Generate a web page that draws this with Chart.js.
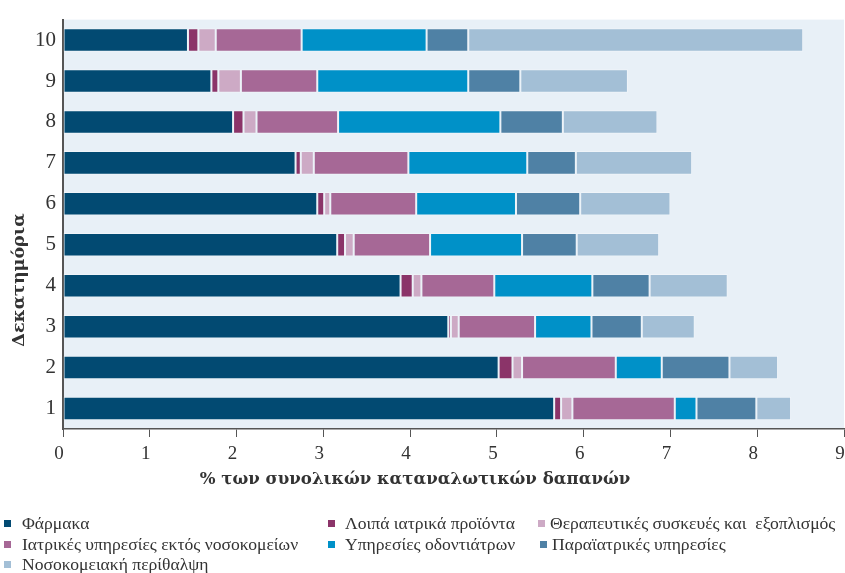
<!DOCTYPE html>
<html>
<head>
<meta charset="utf-8">
<script src="https://cdn.jsdelivr.net/npm/chart.js@4"></script>
<style>
  html, body { margin: 0; padding: 0; background: #fff; overflow: hidden; }
  #wrap { position: relative; width: 845px; height: 573px; }
  #legenda { position: absolute; left: 0; top: 0; width: 845px; height: 573px; pointer-events: none;
    font-family: "Liberation Serif", serif; font-size: 17.6px; color: #333; }
  .item { position: absolute; white-space: pre; line-height: 20px; }
  .box { position: absolute; width: 7px; height: 7px; }
</style>
</head>
<body>
<div id="wrap">
  <canvas id="grafima" width="845" height="500"></canvas>
  <div id="legenda"></div>
</div>
<script>
// δεκατημόρια, από πάνω προς τα κάτω
const dekatimoria = ['10', '9', '8', '7', '6', '5', '4', '3', '2', '1'];

const farmaka      = [1.44, 1.71, 1.96, 2.68, 2.93, 3.16, 3.89, 4.44, 5.02, 5.66];
const loipa        = [0.12, 0.08, 0.12, 0.06, 0.08, 0.09, 0.14, 0.03, 0.16, 0.08];
const syskeves     = [0.20, 0.26, 0.15, 0.15, 0.07, 0.10, 0.10, 0.09, 0.11, 0.13];
const iatrikes     = [0.99, 0.88, 0.94, 1.09, 0.99, 0.88, 0.84, 0.88, 1.08, 1.18];
const odontiatroi  = [1.44, 1.74, 1.87, 1.37, 1.15, 1.06, 1.13, 0.65, 0.53, 0.25];
const paraiatrikes = [0.48, 0.60, 0.72, 0.56, 0.74, 0.63, 0.66, 0.58, 0.78, 0.69];
const nosokomeia   = [3.86, 1.24, 1.09, 1.34, 1.04, 0.95, 0.90, 0.61, 0.56, 0.40];

const xMin = 0;
const xMax = 9;

const titlosX = '% των συνολικών καταναλωτικών δαπανών';
const titlosY = 'Δεκατημόρια';

const seires = [
  { label: 'Φάρμακα', data: farmaka, color: '#024a72' },
  { label: 'Λοιπά ιατρικά προϊόντα', data: loipa, color: '#8b3469' },
  { label: 'Θεραπευτικές συσκευές και  εξοπλισμός', data: syskeves, color: '#cdaac5' },
  { label: 'Ιατρικές υπηρεσίες εκτός νοσοκομείων', data: iatrikes, color: '#a66896' },
  { label: 'Υπηρεσίες οδοντιάτρων', data: odontiatroi, color: '#0091c8' },
  { label: 'Παραϊατρικές υπηρεσίες', data: paraiatrikes, color: '#4f81a5' },
  { label: 'Νοσοκομειακή περίθαλψη', data: nosokomeia, color: '#a3bfd6' }
];

// θέσεις υπομνήματος (x κουτιού, x κειμένου, y κέντρου)
const legendThesi = [
  [4, 22, 523], [328, 345, 523], [538, 550, 523],
  [4, 22, 544], [328, 345, 544], [540, 552, 544],
  [4, 22, 564]
];

const fonto = {
  id: 'fonto',
  beforeDraw(chart) {
    const { ctx, chartArea: a } = chart;
    ctx.save();
    ctx.fillStyle = '#e8f0f7';
    ctx.fillRect(a.left, a.top, a.right - a.left, a.bottom - a.top);
    ctx.restore();
  },
  afterDraw(chart) {
    const ctx = chart.ctx;
    ctx.save();
    ctx.font = 'bold 16.6px "DejaVu Serif", serif';
    ctx.fillStyle = '#333';
    ctx.textAlign = 'center';
    ctx.textBaseline = 'middle';
    ctx.fillText(titlosX, 415, 480);
    ctx.font = 'bold 17.5px "DejaVu Serif", serif';
    ctx.translate(19, 280);
    ctx.rotate(-Math.PI / 2);
    ctx.fillText(titlosY, 0, 0);
    ctx.restore();
  }
};

new Chart(document.getElementById('grafima'), {
  type: 'bar',
  data: {
    labels: dekatimoria,
    datasets: seires.map(s => ({
      label: s.label,
      data: s.data,
      backgroundColor: s.color,
      borderColor: 'rgba(255,255,255,0.3)',
      borderWidth: 1,
      borderSkipped: false,
      barPercentage: 0.575,
      categoryPercentage: 1
    }))
  },
  options: {
    indexAxis: 'y',
    responsive: false,
    animation: false,
    layout: { padding: { top: 11, right: 1 } },
    plugins: {
      legend: { display: false },
      tooltip: { enabled: false }
    },
    scales: {
      x: {
        stacked: true,
        min: xMin,
        max: xMax,
        afterFit(scale) {
          scale.height = 71;
          scale.paddingRight = 0;
        },
        grid: { drawOnChartArea: false, tickLength: 8, color: '#555' },
        border: { color: '#555', width: 1.5 },
        ticks: {
          stepSize: 1,
          padding: 6,
          labelOffset: -4,
          color: '#333',
          font: { family: '"Liberation Serif", serif', size: 19 }
        }
      },
      y: {
        stacked: true,
        afterFit(scale) { scale.width = 63; },
        grid: { drawOnChartArea: false, drawTicks: false },
        border: { color: '#555', width: 2 },
        ticks: {
          padding: 7,
          color: '#333',
          font: { family: '"Liberation Serif", serif', size: 21 }
        }
      }
    }
  },
  plugins: [fonto]
});

// υπόμνημα
const leg = document.getElementById('legenda');
seires.forEach((s, i) => {
  const [bx, tx, cy] = legendThesi[i];
  const box = document.createElement('div');
  box.className = 'box';
  box.style.left = bx + 'px';
  box.style.top = (cy - 3) + 'px';
  box.style.background = s.color;
  leg.appendChild(box);
  const t = document.createElement('div');
  t.className = 'item';
  t.style.left = tx + 'px';
  t.style.top = (cy - 10) + 'px';
  t.textContent = s.label;
  leg.appendChild(t);
});
</script>
</body>
</html>
